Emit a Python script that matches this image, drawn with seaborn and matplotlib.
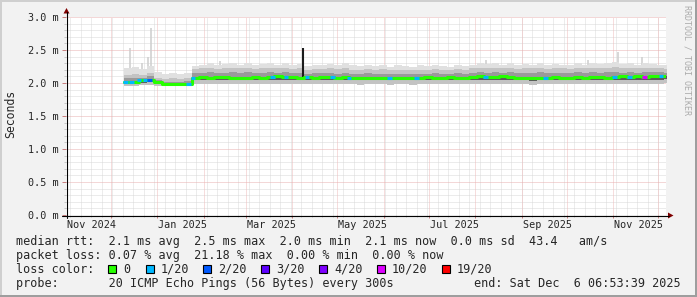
import numpy as np
import pandas as pd
import matplotlib
matplotlib.use("Agg")
import matplotlib.pyplot as plt
import matplotlib.dates as mdates
import seaborn as sns
from matplotlib.patches import Rectangle, Polygon
from matplotlib.lines import Line2D

# ---------------- data (values in milliseconds) ----------------
bin_start = "2024-12-10"   # first 5-day bin
bin_days = 5
median_ms = [2.02, 2.02, 2.04, 2.05, 2.01, 1.99, 1.98, 1.99, 1.99,
             2.08, 2.09, 2.08, 2.09, 2.09, 2.08, 2.07, 2.08, 2.09, 2.08, 2.09, 2.10, 2.09, 2.09, 2.08, 2.09,
             2.08, 2.09, 2.09, 2.08, 2.09, 2.08, 2.08, 2.07, 2.08, 2.08, 2.07, 2.08, 2.08, 2.07, 2.08, 2.09,
             2.08, 2.08, 2.09, 2.08, 2.08, 2.09, 2.10, 2.09, 2.09, 2.10, 2.09, 2.08, 2.08, 2.07, 2.08, 2.08,
             2.09, 2.08, 2.08, 2.09, 2.08, 2.09, 2.09, 2.08, 2.09, 2.10, 2.09, 2.10, 2.09, 2.10, 2.10, 2.11]
smoke_max = [2.22, 2.24, 2.21, 2.26, 2.16, 2.14, 2.15, 2.14, 2.15,
             2.26, 2.28, 2.30, 2.27, 2.29, 2.31, 2.28, 2.30, 2.27, 2.29, 2.31, 2.28, 2.30, 2.27, 2.29, 2.26,
             2.28, 2.27, 2.29, 2.27, 2.30, 2.27, 2.26, 2.28, 2.26, 2.27, 2.25, 2.27, 2.26, 2.25, 2.27, 2.26,
             2.28, 2.26, 2.25, 2.27, 2.26, 2.28, 2.30, 2.29, 2.31, 2.28, 2.30, 2.27, 2.29, 2.28, 2.30, 2.27,
             2.29, 2.28, 2.27, 2.30, 2.28, 2.31, 2.29, 2.30, 2.32, 2.29, 2.31, 2.28, 2.30, 2.29, 2.28, 2.27]
smoke_mid = [2.12, 2.13, 2.12, 2.15, 2.08, 2.06, 2.07, 2.06, 2.07,
             2.21, 2.22, 2.23, 2.21, 2.22, 2.23, 2.22, 2.23, 2.21, 2.22, 2.23, 2.22, 2.23, 2.21, 2.22, 2.20,
             2.21, 2.21, 2.22, 2.21, 2.22, 2.20, 2.20, 2.21, 2.20, 2.21, 2.19, 2.20, 2.20, 2.19, 2.20, 2.20,
             2.21, 2.20, 2.19, 2.21, 2.20, 2.22, 2.23, 2.22, 2.23, 2.22, 2.23, 2.21, 2.22, 2.22, 2.23, 2.21,
             2.22, 2.22, 2.21, 2.23, 2.22, 2.23, 2.22, 2.23, 2.24, 2.22, 2.23, 2.22, 2.23, 2.22, 2.22, 2.21]
smoke_hi = [2.07, 2.08, 2.08, 2.10, 2.04, 2.02, 2.02, 2.02, 2.03,
            2.15, 2.15, 2.16, 2.15, 2.15, 2.16, 2.15, 2.16, 2.15, 2.15, 2.16, 2.15, 2.16, 2.15, 2.15, 2.14,
            2.15, 2.15, 2.15, 2.14, 2.15, 2.14, 2.14, 2.15, 2.14, 2.14, 2.13, 2.14, 2.14, 2.13, 2.14, 2.14,
            2.15, 2.14, 2.14, 2.15, 2.14, 2.15, 2.16, 2.15, 2.16, 2.15, 2.16, 2.15, 2.15, 2.15, 2.16, 2.15,
            2.15, 2.15, 2.15, 2.16, 2.15, 2.16, 2.15, 2.16, 2.17, 2.15, 2.16, 2.15, 2.16, 2.16, 2.16, 2.15]
smoke_lo = [1.99, 1.99, 2.00, 2.01, 1.98, 1.97, 1.96, 1.97, 1.97,
            2.04, 2.05, 2.04, 2.05, 2.05, 2.04, 2.04, 2.04, 2.05, 2.04, 2.05, 2.05, 2.05, 2.05, 2.04, 2.05,
            2.04, 2.05, 2.05, 2.04, 2.05, 2.04, 2.04, 2.04, 2.04, 2.04, 2.04, 2.04, 2.04, 2.04, 2.04, 2.05,
            2.04, 2.04, 2.05, 2.04, 2.04, 2.05, 2.05, 2.05, 2.05, 2.05, 2.04, 2.04, 2.04, 2.03, 2.04, 2.04,
            2.05, 2.04, 2.04, 2.05, 2.04, 2.05, 2.04, 2.05, 2.05, 2.05, 2.05, 2.05, 2.05, 2.05, 2.05, 2.06]
smoke_min = [1.96, 1.96, 1.97, 1.97, 1.96, 1.95, 1.95, 1.95, 1.95,
             1.98, 1.99, 1.98, 1.99, 1.98, 1.98, 1.98, 1.98, 1.99, 1.98, 1.99, 1.99, 1.98, 1.99, 1.98, 1.99,
             1.98, 1.98, 1.99, 1.98, 1.98, 1.98, 1.97, 1.98, 1.98, 1.98, 1.97, 1.98, 1.98, 1.97, 1.98, 1.98,
             1.98, 1.98, 1.98, 1.98, 1.98, 1.99, 1.99, 1.98, 1.99, 1.98, 1.98, 1.98, 1.98, 1.97, 1.98, 1.98,
             1.99, 1.98, 1.98, 1.99, 1.98, 1.99, 1.98, 1.99, 1.99, 1.99, 1.99, 1.99, 1.99, 1.99, 1.99, 2.00]

# single-day smoke outliers
spike_dates = ["2024-12-14", "2024-12-22", "2024-12-26", "2024-12-28", "2025-02-12", "2025-08-08",
               "2025-10-15", "2025-11-04", "2025-11-20"]
spike_tops = [2.53, 2.30, 2.40, 2.84, 2.33, 2.35, 2.35, 2.47, 2.40]
# dark full-range spike
dark_spike_date = ["2025-04-08"]
dark_spike_lo = [2.07]
dark_spike_hi = [2.53]

# loss events on the median line (lost pings out of 20)
loss_dates = ["2024-12-11", "2024-12-15", "2024-12-20", "2024-12-24", "2024-12-27", "2025-01-22",
              "2025-01-25", "2025-03-19", "2025-03-28", "2025-04-11", "2025-04-28", "2025-05-09",
              "2025-06-05", "2025-06-23", "2025-08-08", "2025-09-17", "2025-11-02", "2025-11-12",
              "2025-11-22", "2025-12-03"]
loss_counts = [1, 1, 1, 1, 2, 1, 1, 1, 1, 1, 1, 1, 1, 1, 1, 1, 1, 1, 10, 1]

loss_levels = [0, 1, 2, 3, 4, 10, 19]
loss_labels = ["0", "1/20", "2/20", "3/20", "4/20", "10/20", "19/20"]
loss_colors = ["#26ff00", "#00b8ff", "#0059ff", "#5e00ff", "#7e00ff", "#dd00ff", "#ff0000"]

month_labels = ["Nov 2024", "Jan 2025", "Mar 2025", "May 2025", "Jul 2025", "Sep 2025", "Nov 2025"]
month_label_starts = ["2024-11-01", "2025-01-01", "2025-03-01", "2025-05-01", "2025-07-01",
                      "2025-09-01", "2025-11-01"]
y_ticks = [0.0, 0.5, 1.0, 1.5, 2.0, 2.5, 3.0]

legend_lines = [
    "median rtt:  2.1 ms avg  2.5 ms max  2.0 ms min  2.1 ms now  0.0 ms sd  43.4   am/s",
    "packet loss: 0.07 % avg  21.18 % max  0.00 % min  0.00 % now",
    "loss color:",
    "probe:       20 ICMP Echo Pings (56 Bytes) every 300s",
]
end_text = "end: Sat Dec  6 06:53:39 2025"

# ---------------- figure ----------------
sns.set_theme(style="white")
plt.rcParams["font.family"] = ["DejaVu Sans Mono"]

W, H = 697, 297
fig = plt.figure(figsize=(W / 100, H / 100), dpi=100, facecolor="#f2f2f2")


def fx(px):
    return px / W


def fy(py):
    return 1 - py / H


ax = fig.add_axes([fx(66), fy(215), 600 / W, 198 / H])
ax.set_facecolor("white")
t0 = mdates.date2num(pd.Timestamp("2024-11-01 06:53:39").to_pydatetime())
t1 = mdates.date2num(pd.Timestamp("2025-12-06 06:53:39").to_pydatetime())
ax.set_xlim(t0, t1)
ax.set_ylim(0, 3.0)
for s in ax.spines.values():
    s.set_visible(False)


def dnum(lst):
    return mdates.date2num(pd.to_datetime(lst).to_pydatetime())


# grid
dash = (0, (1, 1))
weeks = dnum(pd.date_range("2024-11-04", "2025-12-06", freq="W-MON"))
months = dnum(pd.date_range("2024-12-01", "2025-12-01", freq="MS"))
ax.vlines(weeks, 0, 3.0, colors="#dadada", linestyles=dash, lw=0.72, zorder=0.5)
yminor = [v / 10 for v in range(1, 30) if v % 5 != 0]
ax.hlines(yminor, t0, t1, colors="#d8d8d8", linestyles=dash, lw=0.72, zorder=0.5)
ax.vlines(months, 0, 3.0, colors="#eebcbc", linestyles=dash, lw=0.72, zorder=0.6)
ax.hlines(y_ticks[1:], t0, t1, colors="#e9b0b0", linestyles=dash, lw=0.72, zorder=0.6)

# ticks
ax.set_yticks(y_ticks)
ax.set_yticklabels([f"{v:.1f} m" for v in y_ticks], fontsize=7.3)
ax.set_yticks(yminor, minor=True)
ax.set_xticks(months)
ax.set_xticklabels([])
ax.set_xticks(weeks, minor=True)
ax.tick_params(axis="y", which="major", length=2.9, width=0.72, color="#c98080", pad=2.2, left=True)
ax.tick_params(axis="y", which="minor", length=1.5, width=0.72, color="#c8c8c8", left=True)
ax.tick_params(axis="x", which="major", length=2.2, width=0.72, color="#c98080", bottom=True)
ax.tick_params(axis="x", which="minor", length=1.5, width=0.72, color="#c8c8c8", bottom=True)

# smoke
x = dnum(pd.date_range(bin_start, periods=len(median_ms) + 1, freq=f"{bin_days}D"))


def ext(a):
    return np.append(np.asarray(a, float), a[-1])


sp_x = dnum(spike_dates)
ax.vlines(sp_x, 2.1, spike_tops, colors="#cdcdcd", lw=1.1, zorder=1.5)
ax.fill_between(x, ext(smoke_min), ext(smoke_max), step="post", color="#e0e0e0", lw=0, zorder=2)
ax.fill_between(x, ext(smoke_min), ext(smoke_mid), step="post", color="#c3c3c3", lw=0, zorder=2.1)
ax.fill_between(x, ext(smoke_lo), ext(smoke_hi), step="post", color="#9a9a9a", lw=0, zorder=2.2)
ax.fill_between(x, ext(smoke_lo), ext(median_ms), step="post", color="#5c5c5c", lw=0, zorder=2.3)
ax.vlines(dnum(dark_spike_date), dark_spike_lo, dark_spike_hi, colors="#1c1c1c", lw=1.5, zorder=2.4)

# median line (no loss)
sns.lineplot(x=x, y=ext(median_ms), drawstyle="steps-post", color=loss_colors[0], linewidth=2.2,
             estimator=None, sort=False, legend=False, ax=ax, zorder=3)
# loss-coloured segments
lx = dnum(loss_dates)
idx = np.clip(((lx - x[0]) // bin_days).astype(int), 0, len(median_ms) - 1)
cmap = dict(zip(loss_levels, loss_colors))
ax.hlines(np.asarray(median_ms)[idx], lx - 1.4, lx + 1.4,
          colors=[cmap[c] for c in loss_counts], lw=2.2, zorder=3.5)

# x labels (centred within their month)
for lab, ms in zip(month_labels, month_label_starts):
    xc = mdates.date2num((pd.Timestamp(ms) + pd.Timedelta(days=17)).to_pydatetime())
    ax.text(xc, -(228.3 - 215) / 198, lab, transform=ax.get_xaxis_transform(),
            ha="center", va="baseline", fontsize=7.3, clip_on=False)

# axes with arrows
fig.add_artist(Line2D([fx(62), fx(669)], [fy(215.5), fy(215.5)], color="black", lw=0.8))
fig.add_artist(Line2D([fx(66.5), fx(66.5)], [fy(218), fy(12)], color="black", lw=0.8))
fig.add_artist(Polygon([(fx(668), fy(212.5)), (fx(668), fy(218.5)), (fx(673.5), fy(215.5))],
                       closed=True, facecolor="#7f0000", edgecolor="none"))
fig.add_artist(Polygon([(fx(63.5), fy(13.5)), (fx(69.5), fy(13.5)), (fx(66.5), fy(8))],
                       closed=True, facecolor="#7f0000", edgecolor="none"))

# y label and watermark
fig.text(fx(11), fy(114), "Seconds", rotation=90, ha="center", va="center", fontsize=8.3)
fig.text(fx(687.5), fy(60), "RRDTOOL / TOBI OETIKER", rotation=270, ha="center", va="center",
         fontsize=6, color="#ababab")

# legend block
baselines = [245, 259, 273, 287]
for line, b in zip(legend_lines, baselines):
    fig.text(fx(16), fy(b), line, ha="left", va="baseline", fontsize=8.5)
fig.text(fx(681), fy(287), end_text, ha="right", va="baseline", fontsize=8.5)
box_x = [108, 146, 203, 261, 319, 377, 442]
for bx, col, lab in zip(box_x, loss_colors, loss_labels):
    fig.add_artist(Rectangle((fx(bx), fy(273)), 8 / W, 8 / H, facecolor=col, edgecolor="black",
                             lw=0.8))
    fig.text(fx(bx + 15), fy(273), lab, ha="left", va="baseline", fontsize=8.5)

# outer 3D border
fig.add_artist(Rectangle((0, fy(2)), 1, 2 / H, facecolor="#cfcfcf", edgecolor="none"))
fig.add_artist(Rectangle((0, 0), 2 / W, 1, facecolor="#cfcfcf", edgecolor="none"))
fig.add_artist(Rectangle((0, 0), 1, 2 / H, facecolor="#9e9e9e", edgecolor="none"))
fig.add_artist(Rectangle((fx(695), 0), 2 / W, 1, facecolor="#9e9e9e", edgecolor="none"))

fig.savefig("out.png", dpi=100, facecolor=fig.get_facecolor())
